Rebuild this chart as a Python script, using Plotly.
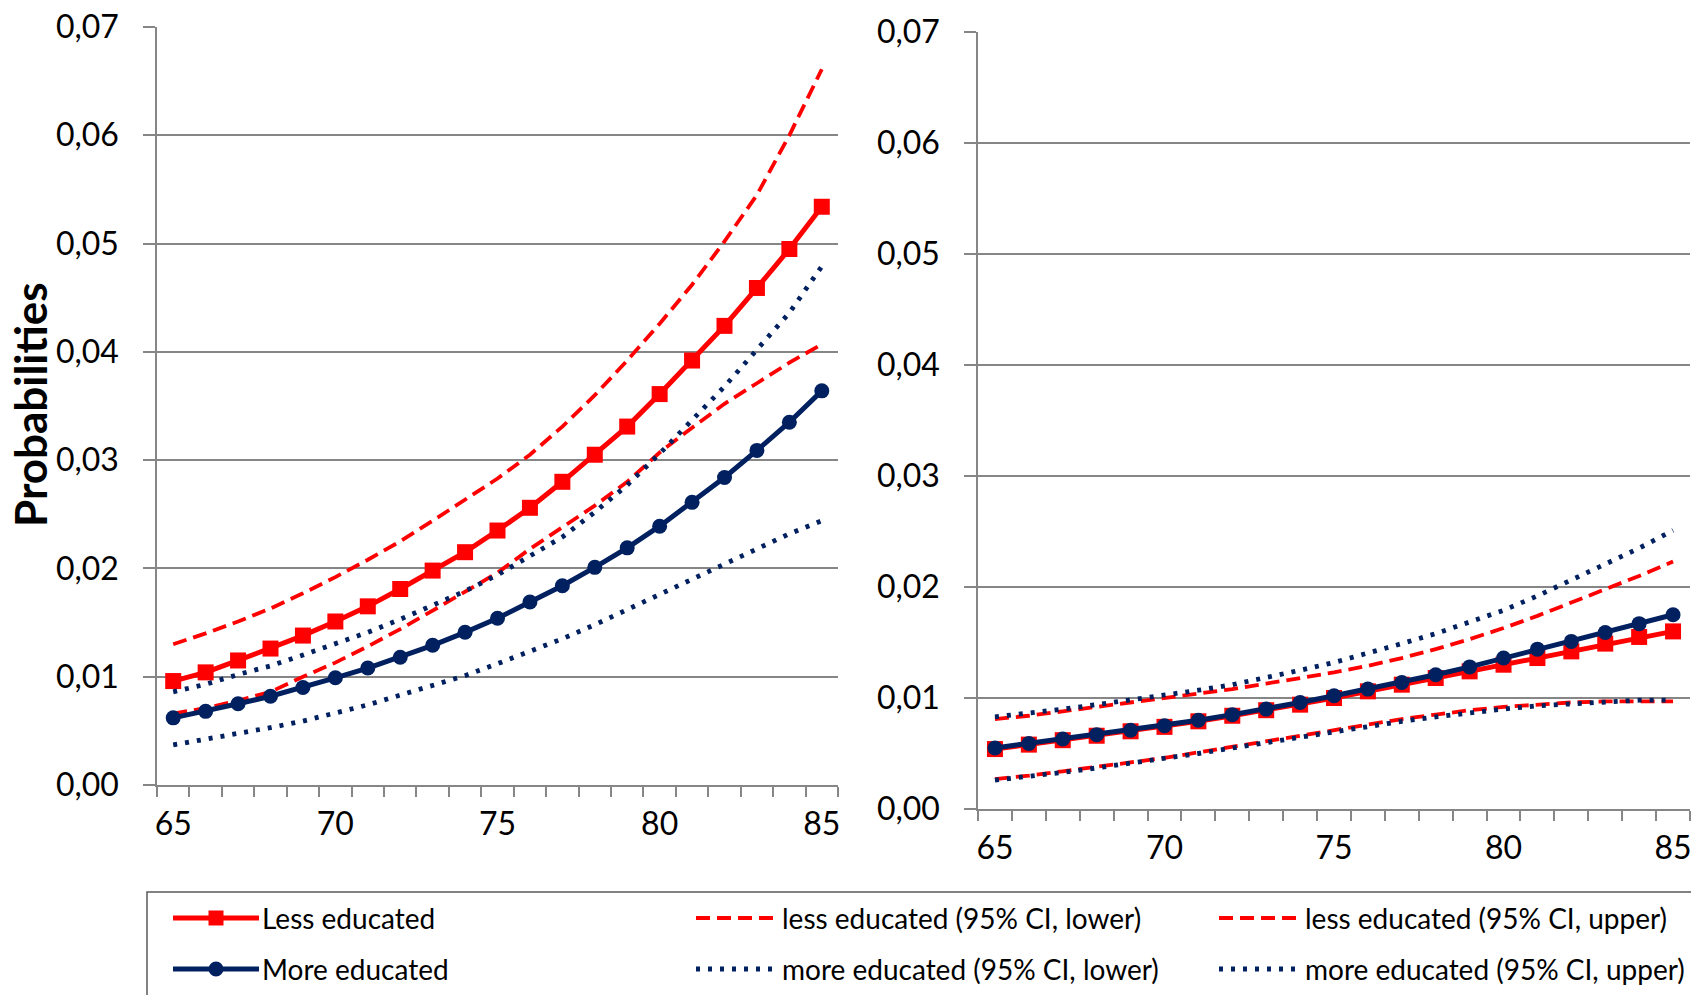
import plotly.graph_objects as go

W, H = 1691, 995

ages = list(range(65, 86))
age_labels = [65, 70, 75, 80, 85]
prob_ticks = [0.00, 0.01, 0.02, 0.03, 0.04, 0.05, 0.06, 0.07]

# Left panel
left_less = [0.0096, 0.0104, 0.0115, 0.0126, 0.0138, 0.0151, 0.0165, 0.0181, 0.0198, 0.0215,
             0.0235, 0.0256, 0.0280, 0.0305, 0.0331, 0.0361, 0.0392, 0.0424, 0.0459, 0.0495, 0.0534]
left_less_lo = [0.0066, 0.0071, 0.0078, 0.0086, 0.0100, 0.0113, 0.0128, 0.0144, 0.0161, 0.0178,
                0.0196, 0.0218, 0.0238, 0.0258, 0.0280, 0.0307, 0.0330, 0.0352, 0.0371, 0.0390, 0.0407]
left_less_hi = [0.0130, 0.0140, 0.0151, 0.0163, 0.0177, 0.0192, 0.0208, 0.0225, 0.0244, 0.0264,
                0.0283, 0.0305, 0.0331, 0.0360, 0.0392, 0.0426, 0.0462, 0.0502, 0.0545, 0.0600, 0.0661]
left_more = [0.0062, 0.0068, 0.0075, 0.0082, 0.0090, 0.0099, 0.0108, 0.0118, 0.0129, 0.0141,
             0.0154, 0.0169, 0.0184, 0.0201, 0.0219, 0.0239, 0.0261, 0.0284, 0.0309, 0.0335, 0.0364]
left_more_lo = [0.0037, 0.0042, 0.0047, 0.0053, 0.0059, 0.0066, 0.0074, 0.0083, 0.0092, 0.0101,
                0.0112, 0.0123, 0.0135, 0.0148, 0.0162, 0.0176, 0.0191, 0.0204, 0.0218, 0.0232, 0.0244]
left_more_hi = [0.0086, 0.0093, 0.0102, 0.0110, 0.0120, 0.0130, 0.0141, 0.0153, 0.0166, 0.0179,
                0.0194, 0.0211, 0.0229, 0.0252, 0.0277, 0.0306, 0.0337, 0.0368, 0.0402, 0.0436, 0.0479]

# Right panel
right_less = [0.0054, 0.0058, 0.0062, 0.0066, 0.0070, 0.0074, 0.0079, 0.0084, 0.0089, 0.0094,
              0.0100, 0.0106, 0.0112, 0.0118, 0.0124, 0.0130, 0.0136, 0.0142, 0.0149, 0.0155, 0.0160]
right_less_lo = [0.0027, 0.0030, 0.0034, 0.0038, 0.0042, 0.0046, 0.0051, 0.0056, 0.0061, 0.0066,
                 0.0071, 0.0076, 0.0081, 0.0085, 0.0089, 0.0092, 0.0094, 0.0096, 0.0097, 0.0097, 0.0097]
right_less_hi = [0.0081, 0.0084, 0.0088, 0.0092, 0.0096, 0.0100, 0.0104, 0.0108, 0.0113, 0.0118,
                 0.0123, 0.0129, 0.0136, 0.0144, 0.0153, 0.0163, 0.0174, 0.0186, 0.0198, 0.0210, 0.0223]
right_more = [0.0055, 0.0059, 0.0063, 0.0067, 0.0071, 0.0075, 0.0080, 0.0085, 0.0090, 0.0096,
              0.0102, 0.0108, 0.0114, 0.0121, 0.0128, 0.0136, 0.0144, 0.0151, 0.0159, 0.0167, 0.0175]
right_more_lo = [0.0026, 0.0029, 0.0033, 0.0037, 0.0041, 0.0045, 0.0050, 0.0055, 0.0060, 0.0065,
                 0.0070, 0.0074, 0.0079, 0.0083, 0.0087, 0.0090, 0.0093, 0.0095, 0.0097, 0.0098, 0.0098]
right_more_hi = [0.0083, 0.0086, 0.0090, 0.0094, 0.0098, 0.0102, 0.0107, 0.0112, 0.0118, 0.0125,
                 0.0132, 0.0140, 0.0149, 0.0158, 0.0168, 0.0179, 0.0192, 0.0206, 0.0220, 0.0235, 0.0251]

RED = "#FF0000"
NAVY = "#002060"
GRAY = "#868686"
FONT = "Lato"

LESS_NAME = "Less educated"
MORE_NAME = "More educated"
LESS_LO = "less educated (95% CI, lower)"
LESS_HI = "less educated (95% CI, upper)"
MORE_LO = "more educated (95% CI, lower)"
MORE_HI = "more educated (95% CI, upper)"

DASH = "14px,7px"
DOT = "4px,8px"


def px_x(x):
    return x / W


def px_y(y):
    return 1 - y / H


fig = go.Figure()


def add_panel(xa, ya, less, less_lo, less_hi, more, more_lo, more_hi):
    common = dict(x=ages, xaxis=xa, yaxis=ya, showlegend=False, hoverinfo="skip")
    fig.add_trace(go.Scatter(y=less_lo, name=LESS_LO, mode="lines",
                             line=dict(color=RED, width=3.8, dash=DASH), **common))
    fig.add_trace(go.Scatter(y=less_hi, name=LESS_HI, mode="lines",
                             line=dict(color=RED, width=3.8, dash=DASH), **common))
    fig.add_trace(go.Scatter(y=less, name=LESS_NAME, mode="lines+markers",
                             line=dict(color=RED, width=5),
                             marker=dict(symbol="square", size=16, color=RED), **common))
    fig.add_trace(go.Scatter(y=more_lo, name=MORE_LO, mode="lines",
                             line=dict(color=NAVY, width=4.8, dash=DOT), **common))
    fig.add_trace(go.Scatter(y=more_hi, name=MORE_HI, mode="lines",
                             line=dict(color=NAVY, width=4.8, dash=DOT), **common))
    fig.add_trace(go.Scatter(y=more, name=MORE_NAME, mode="lines+markers",
                             line=dict(color=NAVY, width=5),
                             marker=dict(symbol="circle", size=15, color=NAVY), **common))


add_panel("x", "y", left_less, left_less_lo, left_less_hi, left_more, left_more_lo, left_more_hi)
add_panel("x2", "y2", right_less, right_less_lo, right_less_hi, right_more, right_more_lo, right_more_hi)

xaxis_style = dict(
    range=[64.5, 85.5], tickmode="array", tickvals=age_labels, ticks="",
    showline=True, linecolor=GRAY, linewidth=1.5, showgrid=False, zeroline=False,
    automargin=False, ticklabeloverflow="allow",
    tickfont=dict(family=FONT, size=32, color="black"), ticklabelstandoff=10,
    minor=dict(ticks="outside", tick0=64.5, dtick=1, ticklen=10, tickcolor=GRAY,
               tickwidth=1.5, showgrid=False),
)
yaxis_style = dict(
    range=[0, 0.07], tickmode="array", tickvals=prob_ticks, tickformat=".2f",
    showgrid=True, gridcolor=GRAY, gridwidth=1.5, zeroline=False,
    showline=True, linecolor=GRAY, linewidth=1.5, automargin=False,
    ticks="outside", ticklen=12, tickcolor=GRAY, tickwidth=1.5,
    tickfont=dict(family=FONT, size=32, color="black"), ticklabelstandoff=18,
)

fig.update_layout(
    width=W, height=H,
    margin=dict(l=0, r=0, t=0, b=0, pad=0),
    paper_bgcolor="white", plot_bgcolor="white",
    separators=",.",
    font=dict(family=FONT, color="black"),
    showlegend=False,
    xaxis=dict(domain=[px_x(157), px_x(838)], anchor="y", **xaxis_style),
    yaxis=dict(domain=[px_y(785), px_y(27)], anchor="x", **yaxis_style),
    xaxis2=dict(domain=[px_x(978), px_x(1690)], anchor="y2", **xaxis_style),
    yaxis2=dict(domain=[px_y(809), px_y(32)], anchor="x2", **yaxis_style),
)

# y-axis title of the left panel
fig.add_annotation(
    text="<b>Probabilities</b>", xref="paper", yref="paper",
    x=px_x(30), y=px_y(405), xanchor="center", yanchor="middle",
    textangle=-90, showarrow=False,
    font=dict(family=FONT, size=44, color="black"),
)

# Legend box with three columns, two rows
shapes = [dict(type="rect", xref="paper", yref="paper",
               x0=px_x(147), x1=px_x(1720), y0=px_y(892), y1=px_y(1010),
               line=dict(color="#595959", width=1.5), fillcolor="white", layer="below")]

legend_rows = [
    (918, RED, [(LESS_NAME, "solid", "square"), (LESS_LO, DASH, None), (LESS_HI, DASH, None)]),
    (969, NAVY, [(MORE_NAME, "solid", "circle"), (MORE_LO, DOT, None), (MORE_HI, DOT, None)]),
]
col_x = [(173, 259), (696, 779), (1219, 1302)]

for row_y, color, entries in legend_rows:
    for (label, dash, symbol), (sx0, sx1) in zip(entries, col_x):
        lw = 3.8 if dash == DASH else (4.8 if dash == DOT else 5)
        shapes.append(dict(type="line", xref="paper", yref="paper",
                           x0=px_x(sx0), x1=px_x(sx1), y0=px_y(row_y), y1=px_y(row_y),
                           line=dict(color=color, width=lw, dash=dash)))
        if symbol:
            cx, h = (sx0 + sx1) / 2, 7.5
            shapes.append(dict(type="rect" if symbol == "square" else "circle",
                               xref="paper", yref="paper",
                               x0=px_x(cx - h), x1=px_x(cx + h),
                               y0=px_y(row_y + h), y1=px_y(row_y - h),
                               line=dict(color=color, width=0), fillcolor=color))
        fig.add_annotation(text=label, xref="paper", yref="paper",
                           x=px_x(sx1 + 1), y=px_y(row_y), xanchor="left", yanchor="middle",
                           showarrow=False, font=dict(family=FONT, size=28, color="black"))

fig.update_layout(shapes=shapes)

fig.write_html("out.html")
